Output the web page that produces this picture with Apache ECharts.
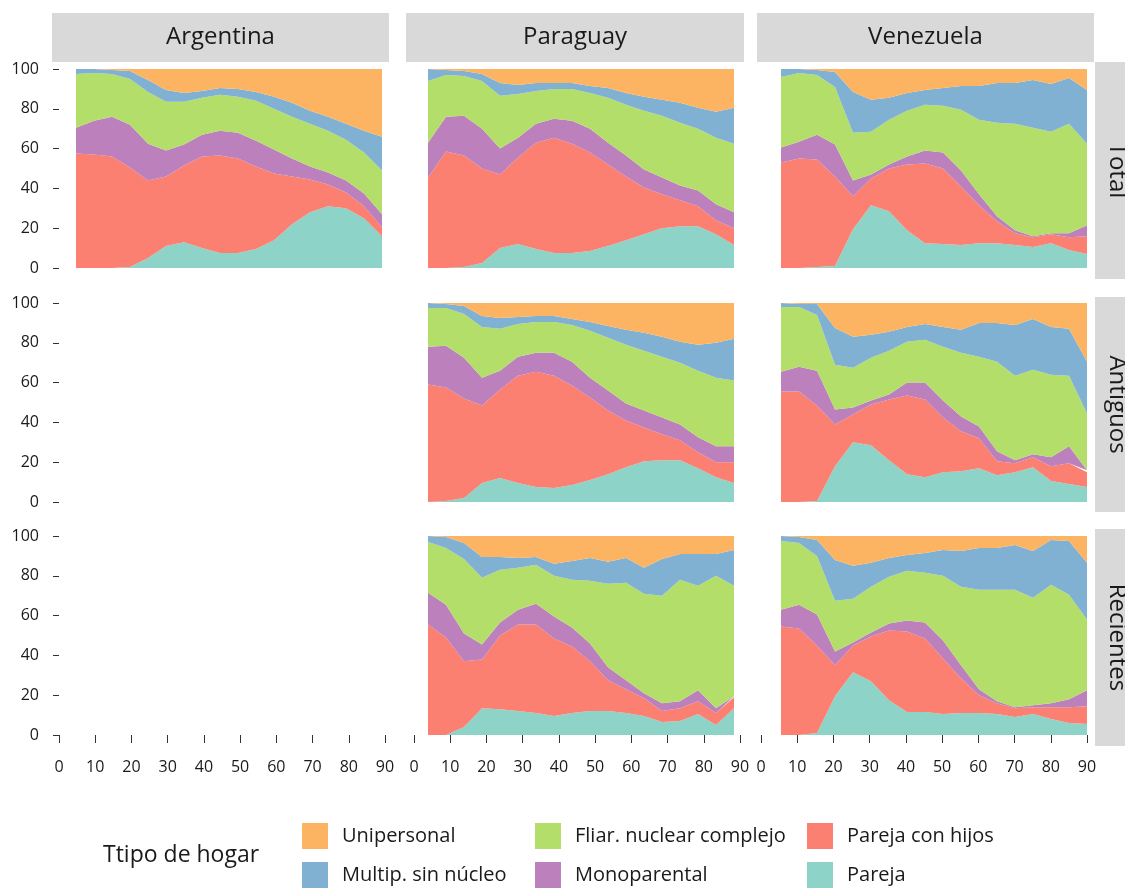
<!DOCTYPE html>
<html>
<head>
<meta charset="utf-8">
<script src="https://cdn.jsdelivr.net/npm/echarts@6/dist/echarts.min.js"></script>
<style>
  html, body { margin: 0; padding: 0; background: #ffffff; }
  #chart { width: 1125px; height: 888px; }
</style>
</head>
<body>
<div id="chart"></div>
<script>
// Age (years) on the horizontal axis
const ages = [5, 10, 15, 20, 25, 30, 35, 40, 45, 50, 55, 60, 65, 70, 75, 80, 85, 90];
const xTicks = [0, 10, 20, 30, 40, 50, 60, 70, 80, 90];
const yTicks = [0, 20, 40, 60, 80, 100];

const countries = ['Argentina', 'Paraguay', 'Venezuela'];
const periods = ['Total', 'Antiguos', 'Recientes'];

// Household types, stacked bottom to top
const householdTypes = ['Pareja', 'Pareja con hijos', 'Monoparental', 'Fliar. nuclear complejo', 'Multip. sin núcleo', 'Unipersonal'];
const typeColors = ['#8DD3C7', '#FB8072', '#BC80BD', '#B3DE69', '#80B1D3', '#FDB462'];

// Argentina – Total (%)
const arTotalPareja   = [0, 0, 0, 0.5, 5, 11, 13, 10, 7.5, 7.5, 9.5, 14, 22, 28, 31, 30, 25, 16];
const arTotalHijos    = [57.5, 57, 56, 50, 39, 35, 38.5, 46, 49, 47.5, 41.5, 33.5, 24, 16.5, 11, 8, 6, 4.5];
const arTotalMono     = [13, 17, 20, 21.5, 18.5, 13, 10.5, 11, 12.5, 13, 13, 12, 9, 6.5, 6, 6, 6.5, 6.5];
const arTotalComplejo = [27, 24, 21.5, 23, 26, 24.5, 21.5, 18.5, 18, 18, 20, 20.5, 21, 21.5, 21, 20.5, 20.5, 22];
const arTotalMultip   = [2.5, 2, 2, 4, 6, 6, 4.5, 3.5, 3.5, 4, 4.5, 6, 7, 6.5, 7, 8, 11, 17];
const arTotalUnip     = [0, 0, 0.5, 1, 5.5, 10.5, 12, 11, 9.5, 10, 11.5, 14, 17, 21, 24, 27.5, 31, 34];

// Paraguay – Total (%)
const pyTotalPareja   = [0, 0, 0.5, 2.5, 10, 12, 9.5, 7.5, 7.5, 8.5, 11, 14, 17, 20, 21, 21, 17, 11.5];
const pyTotalHijos    = [45.5, 58.5, 56, 47.5, 37, 43.5, 53.5, 58, 55, 49.5, 41, 32, 23.5, 17, 13, 10, 7, 8.5];
const pyTotalMono     = [17.5, 17.5, 20, 20, 13, 10, 9.5, 9.5, 11.5, 12, 11, 10.5, 9, 8.5, 7.5, 8, 8, 8];
const pyTotalComplejo = [31, 21, 20, 24, 26.5, 22, 16.5, 15, 16, 18, 22.5, 25.5, 29.5, 31, 31.5, 31, 33.5, 34.5];
const pyTotalMultip   = [6, 2.5, 2.5, 3.5, 6.5, 4.5, 4, 3, 3, 3.5, 5, 6, 7, 8, 10, 10.5, 13, 18];
const pyTotalUnip     = [0, 0.5, 1, 2.5, 7, 8, 7, 7, 7, 8.5, 9.5, 12, 14, 15.5, 17, 19.5, 21.5, 19.5];

// Venezuela – Total (%)
const veTotalPareja   = [0, 0, 0.5, 1, 19.5, 31.5, 28.5, 19, 12.5, 12, 11.5, 12.5, 12.5, 11.5, 10.5, 12.5, 9, 7];
const veTotalHijos    = [53, 55, 54, 45, 16.5, 13.5, 21.5, 33, 40, 38, 29.5, 19, 11, 6, 5, 4.5, 6.5, 9];
const veTotalMono     = [7.5, 8.5, 12.5, 16, 8, 2, 2, 4, 6.5, 8, 8, 5.5, 2.5, 1.5, 0.5, 0.5, 2, 5.5];
const veTotalComplejo = [35.5, 34.5, 30, 29, 24, 21.5, 22.5, 23, 23, 23.5, 30.5, 37.5, 47, 53.5, 54.5, 51, 55, 41];
const veTotalMultip   = [4, 2, 2.5, 7.5, 20.5, 16, 11, 9, 7.5, 9, 12, 17, 20, 20.5, 24, 24, 23, 27];
const veTotalUnip     = [0, 0, 0.5, 1.5, 11.5, 15.5, 14.5, 12, 10.5, 9.5, 8.5, 8.5, 7, 7, 5.5, 7.5, 4.5, 10.5];

// Paraguay – Antiguos (%)
const pyAntPareja   = [0, 0.5, 2, 9.5, 12, 9.5, 7.5, 7, 8.5, 11, 14, 17.5, 20.5, 21, 21, 17, 12.5, 9.5];
const pyAntHijos    = [59, 57, 50, 39, 44.5, 54, 58, 56.5, 50, 41.5, 32, 23.5, 17, 13, 10, 8, 7.5, 10.5];
const pyAntMono     = [19, 21, 20.5, 14, 9.5, 9.5, 9.5, 11.5, 12, 10, 10, 8.5, 8.5, 8.5, 8, 7.5, 8, 8];
const pyAntComplejo = [19.5, 19, 22, 25.5, 21, 16.5, 15.5, 15.5, 18.5, 23.5, 26.5, 29.5, 30, 30.5, 31, 33.5, 34.5, 33];
const pyAntMultip   = [2.5, 2, 4, 5.5, 5.5, 3.5, 3, 3, 3, 4.5, 6, 7.5, 9, 10, 10.5, 13, 17.5, 21];
const pyAntUnip     = [0, 0.5, 1.5, 6.5, 7.5, 7, 6.5, 6.5, 8, 9.5, 11.5, 13.5, 15, 17, 19.5, 21, 20, 18];

// Venezuela – Antiguos (%)
const veAntPareja   = [0, 0, 0.5, 18, 30, 28.5, 21, 14, 12.5, 15, 15.5, 17, 13.5, 15, 17.5, 10.5, 9, 7.5];
const veAntHijos    = [55.5, 55.5, 48, 21, 14, 20.5, 30.5, 39.5, 39, 27.5, 20, 15, 7, 4.5, 5, 7.5, 10.5, 7.5];
const veAntMono     = [10, 12.5, 17.5, 7.5, 3.5, 2, 2.5, 6.5, 8.5, 8.5, 7.5, 6, 5, 1.5, 1.5, 4.5, 8.5, 1];
const veAntComplejo = [32.5, 30, 28, 22.5, 20, 21.5, 22, 20.5, 21.5, 27, 32, 35, 45, 42.5, 42.5, 41.5, 35.5, 28.5];
const veAntMultip   = [2, 1.5, 5.5, 18.5, 15.5, 11.5, 9.5, 7.5, 8, 10, 11.5, 17, 19.5, 25.5, 25.5, 24, 23.5, 26];
const veAntUnip     = [0, 0.5, 0.5, 12.5, 17, 16, 14.5, 12, 10.5, 12, 13.5, 10, 10, 11, 8, 12, 13, 29.5];

// Paraguay – Recientes (%)
const pyRecPareja   = [0, 0, 4, 13.5, 13, 12, 11, 9.5, 11, 12, 12, 11, 9.5, 6.5, 7, 10.5, 5, 13.5];
const pyRecHijos    = [55.5, 49, 33, 24.5, 37, 43.5, 44.5, 39, 33.5, 25, 15.5, 12, 9, 5.5, 6.5, 6.5, 6, 5.5];
const pyRecMono     = [16, 16.5, 14, 7.5, 6.5, 7.5, 10.5, 11, 9.5, 9, 6.5, 4.5, 2.5, 4, 3.5, 5.5, 2.5, 0.5];
const pyRecComplejo = [25.5, 28.5, 37.5, 33.5, 26.5, 21, 19.5, 20.5, 24, 31.5, 42, 49, 50, 54, 61, 52.5, 66.5, 55.5];
const pyRecMultip   = [3, 5.5, 8, 10.5, 6.5, 5, 4, 6, 9.5, 11.5, 11, 12.5, 13, 18.5, 13, 16, 11, 18];
const pyRecUnip     = [0, 0.5, 3.5, 10.5, 10.5, 11, 10.5, 14, 12.5, 11, 13, 11, 16, 11.5, 9, 9, 9, 7];

// Venezuela – Recientes (%)
const veRecPareja   = [0, 0, 1, 19.5, 31.5, 27, 17.5, 11.5, 11.5, 10.5, 11, 11, 10.5, 9, 10.5, 8, 6, 5.5];
const veRecHijos    = [54.5, 53.5, 44, 15.5, 13.5, 22.5, 35, 40.5, 37, 28, 17.5, 9, 5.5, 4.5, 3.5, 6, 8, 9];
const veRecMono     = [8.5, 12, 15.5, 7, 1.5, 2, 3.5, 5.5, 8, 9, 6.5, 3, 1, 0.5, 1, 2, 4, 8];
const veRecComplejo = [34.5, 31, 29.5, 25.5, 22, 23, 23.5, 25, 25, 32.5, 39.5, 50, 56, 59, 54, 59.5, 52.5, 35.5];
const veRecMultip   = [2.5, 3, 8, 20.5, 16.5, 12, 9.5, 8, 10, 13, 18, 21, 21, 22.5, 23.5, 22.5, 27, 28.5];
const veRecUnip     = [0, 0.5, 2, 12, 15, 13.5, 11, 9.5, 8.5, 7, 7.5, 6, 6, 4.5, 7.5, 2, 2.5, 13.5];

// Panels: [column, row, series in stacking order]; Argentina only has the Total row
const panels = [
  [0, 0, [arTotalPareja, arTotalHijos, arTotalMono, arTotalComplejo, arTotalMultip, arTotalUnip]],
  [1, 0, [pyTotalPareja, pyTotalHijos, pyTotalMono, pyTotalComplejo, pyTotalMultip, pyTotalUnip]],
  [2, 0, [veTotalPareja, veTotalHijos, veTotalMono, veTotalComplejo, veTotalMultip, veTotalUnip]],
  [1, 1, [pyAntPareja, pyAntHijos, pyAntMono, pyAntComplejo, pyAntMultip, pyAntUnip]],
  [2, 1, [veAntPareja, veAntHijos, veAntMono, veAntComplejo, veAntMultip, veAntUnip]],
  [1, 2, [pyRecPareja, pyRecHijos, pyRecMono, pyRecComplejo, pyRecMultip, pyRecUnip]],
  [2, 2, [veRecPareja, veRecHijos, veRecMono, veRecComplejo, veRecMultip, veRecUnip]]
];

// ---- layout ----
const FONT = '"Open Sans", "DejaVu Sans", sans-serif';
const TEXT = '#1a1a1a';
const STRIP = '#d9d9d9';
const colLeft = [59, 414, 761];     // position of age 0 on each column's axis
const plotW = 326;                  // 0..90 span
const dataLeft = [76, 428, 781];    // area panels (ages 5..90)
const dataW = 306;
const rowTop = [69, 303, 536];
const plotH = 199;
const stripCols = [[52, 389], [406, 744], [757, 1094]];
const stripRows = [[62, 279], [297, 512], [529, 746]];

const grids = [], xAxes = [], yAxes = [], series = [];

// axis-only grids (3 x 3) carrying the tick marks and labels
for (let r = 0; r < 3; r++) {
  for (let c = 0; c < 3; c++) {
    const gi = grids.length;
    grids.push({ left: colLeft[c], top: rowTop[r], width: plotW, height: plotH });
    xAxes.push({
      type: 'value', gridIndex: gi, min: 0, max: 90, interval: 10,
      show: r === 2, offset: 9,
      axisLine: { show: false },
      axisTick: { show: true, length: 8, lineStyle: { color: '#333333', width: 1 } },
      axisLabel: { show: true, margin: 15, fontSize: 16, color: TEXT, fontFamily: FONT,
                   formatter: v => (xTicks.indexOf(v) >= 0 ? String(v) : '') },
      splitLine: { show: false }
    });
    yAxes.push({
      type: 'value', gridIndex: gi, min: 0, max: 100, interval: 20,
      show: c === 0, offset: 6,
      axisLine: { show: false },
      axisTick: { show: true, length: 6, lineStyle: { color: '#333333', width: 1 } },
      axisLabel: { show: true, margin: 14, fontSize: 16, color: TEXT, fontFamily: FONT,
                   formatter: v => (yTicks.indexOf(v) >= 0 ? String(v) : '') },
      splitLine: { show: false }
    });
  }
}

// stacked area panels
panels.forEach(([c, r, values]) => {
  const gi = grids.length;
  grids.push({ left: dataLeft[c], top: rowTop[r], width: dataW, height: plotH });
  xAxes.push({ type: 'category', gridIndex: gi, data: ages.map(String), boundaryGap: false, show: false });
  yAxes.push({ type: 'value', gridIndex: gi, min: 0, max: 100, show: false, splitLine: { show: false } });
  householdTypes.forEach((name, k) => {
    series.push({
      type: 'line', name: name,
      xAxisIndex: gi, yAxisIndex: gi,
      stack: 'panel' + gi,
      data: values[k],
      symbol: 'none', showSymbol: false, smooth: false, silent: true,
      lineStyle: { width: 0, color: typeColors[k] },
      itemStyle: { color: typeColors[k] },
      areaStyle: { color: typeColors[k], opacity: 1 },
      emphasis: { disabled: true }
    });
  });
});

// facet strips and legend title
const graphics = [];
countries.forEach((name, c) => {
  const [x0, x1] = stripCols[c];
  graphics.push({ type: 'rect', shape: { x: x0, y: 13, width: x1 - x0, height: 49 }, style: { fill: STRIP }, silent: true });
  graphics.push({ type: 'text', x: (x0 + x1) / 2, y: 37.5,
    style: { text: name, fill: TEXT, font: '24px ' + FONT, textAlign: 'center', textVerticalAlign: 'middle' }, silent: true });
});
periods.forEach((name, r) => {
  const [y0, y1] = stripRows[r];
  graphics.push({ type: 'rect', shape: { x: 1095, y: y0, width: 42, height: y1 - y0 }, style: { fill: STRIP }, silent: true });
  graphics.push({ type: 'text', x: 1117, y: (y0 + y1) / 2, rotation: -Math.PI / 2,
    style: { text: name, fill: TEXT, font: '24px ' + FONT, textAlign: 'center', textVerticalAlign: 'middle' }, silent: true });
});
graphics.push({ type: 'text', x: 103, y: 855,
  style: { text: 'Ttipo de hogar', fill: TEXT, font: '23px ' + FONT, textAlign: 'left', textVerticalAlign: 'middle' }, silent: true });

const legendBase = {
  orient: 'vertical', top: 823, height: 80, padding: 0,
  itemWidth: 26, itemHeight: 26, itemGap: 13,
  icon: 'rect', selectedMode: false,
  textStyle: { fontSize: 20, color: TEXT, fontFamily: FONT, padding: [0, 0, 0, 9] }
};
const legends = [
  Object.assign({}, legendBase, { left: 302, data: ['Unipersonal', 'Multip. sin núcleo'] }),
  Object.assign({}, legendBase, { left: 535, data: ['Fliar. nuclear complejo', 'Monoparental'] }),
  Object.assign({}, legendBase, { left: 807, data: ['Pareja con hijos', 'Pareja'] })
];

const chart = echarts.init(document.getElementById('chart'), null, { renderer: 'canvas' });
chart.setOption({
  animation: false,
  backgroundColor: '#ffffff',
  grid: grids,
  xAxis: xAxes,
  yAxis: yAxes,
  legend: legends,
  series: series,
  graphic: graphics
});
</script>
</body>
</html>
